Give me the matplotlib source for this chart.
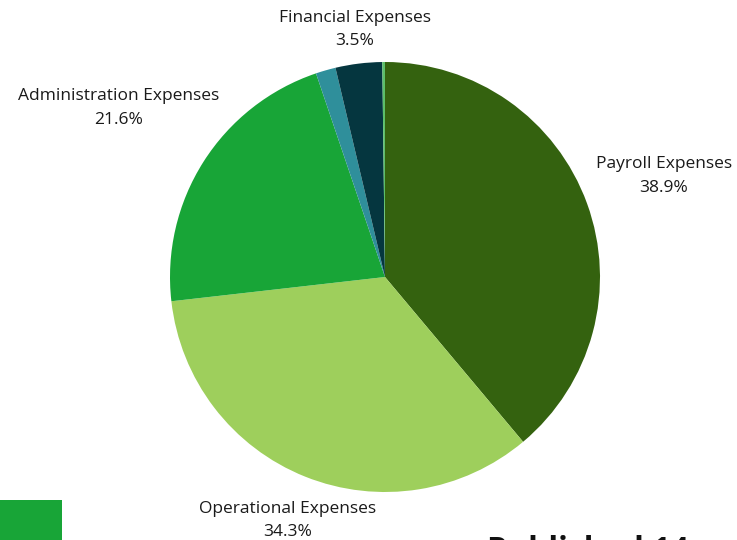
import matplotlib.pyplot as plt
from matplotlib.patches import Rectangle
import numpy as np

plt.rcParams['font.family'] = ['Open Sans', 'DejaVu Sans']

# expense breakdown
categories = ["Payroll Expenses", "Operational Expenses", "Administration Expenses",
              "Other Expenses", "Financial Expenses", "Miscellaneous"]
shares = [38.9, 34.3, 21.6, 1.5, 3.5, 0.2]
show_label = [True, True, True, False, True, False]
colors = ["#34620f", "#9ecf5c", "#18a537", "#2f8f9b", "#05363f", "#5cbf6a"]
label_dist = [1.38, 1.22, 1.47, 1.2, 1.16, 1.2]

fig = plt.figure(figsize=(7.37, 5.40), dpi=100)
# pie centred at (385, 277) px, radius 215 px
ax = fig.add_axes([170 / 737, 48 / 540, 430 / 737, 430 / 540])
wedges, _ = ax.pie(shares, colors=colors, startangle=90, counterclock=False,
                   radius=1, wedgeprops=dict(linewidth=0))
ax.set_xlim(-1, 1)
ax.set_ylim(-1, 1)
ax.set_aspect("equal")
ax.axis("off")

for w, name, val, show, d in zip(wedges, categories, shares, show_label, label_dist):
    if not show:
        continue
    mid = np.deg2rad((w.theta1 + w.theta2) / 2)
    ax.text(d * np.cos(mid), d * np.sin(mid), f"{name}\n{val}%",
            ha="center", va="center", fontsize=12.5, color="#1a1a1a",
            linespacing=1.65, clip_on=False)

# green block and heading at the bottom edge
fig.patches.append(Rectangle((0, 0), 62 / 737, 40 / 540, transform=fig.transFigure,
                             facecolor="#18a537", edgecolor="none"))
fig.text(487 / 737, -20 / 540, "Published 14", fontsize=23, fontweight="bold",
         color="#111111", ha="left", va="baseline")

fig.savefig("out.png", dpi=100)
